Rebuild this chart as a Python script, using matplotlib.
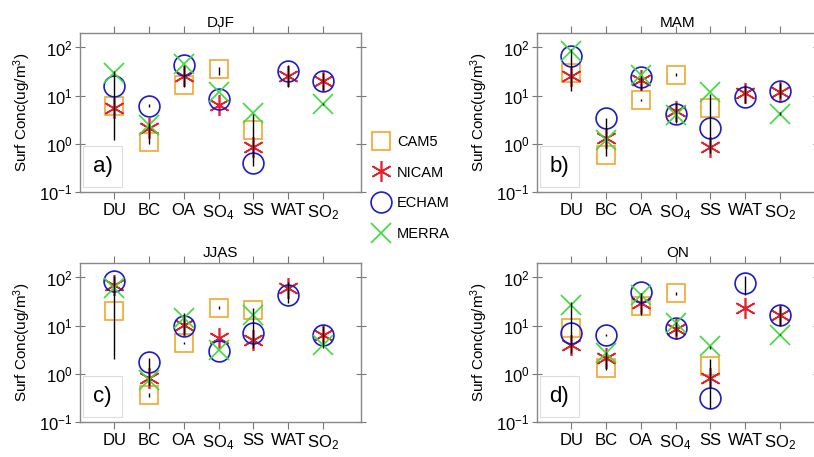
import numpy as np
import matplotlib
matplotlib.use('Agg')
import matplotlib.pyplot as plt
from matplotlib.lines import Line2D

plt.rcParams['font.family'] = ['Liberation Sans', 'DejaVu Sans']
plt.rcParams['mathtext.fontset'] = 'custom'
plt.rcParams['mathtext.rm'] = 'Liberation Sans'
plt.rcParams['mathtext.it'] = 'Liberation Sans'

nan = np.nan
species = ['DU', 'BC', 'OA', r'SO$_4$', 'SS', 'WAT', r'SO$_2$']
models = ['CAM5', 'NICAM', 'ECHAM', 'MERRA']
seasons = ['DJF', 'MAM', 'JJAS', 'ON']
panel_tags = ['a)', 'b)', 'c)', 'd)']

# surface concentrations (ug/m3), one list per season and model
djf_cam5 = [6.0, 1.1, 17, 35, 1.95, nan, nan]
djf_nicam = [5.6, 2.1, 26, 6.5, 0.88, 26, 20]
djf_echam = [16, 6.2, 44, 8.7, 0.4, 32, 20.5]
djf_merra = [30, 2.5, 45, 12, 4.4, nan, 6.8]

mam_cam5 = [29, 0.59, 8.3, 27, 5.5, nan, nan]
mam_nicam = [26, 1.33, 21.5, 4.7, 0.88, 11.4, 12]
mam_echam = [66, 3.4, 24.5, 4.2, 2.1, 9.4, 12.3]
mam_merra = [83, 1.2, 27, 4.0, 12, nan, 4.2]

jjas_cam5 = [20, 0.37, 4.4, 23, 21, nan, nan]
jjas_nicam = [70, 0.83, 10.5, 5.6, 5.1, 60, 6.5]
jjas_echam = [83, 1.8, 9.7, 2.95, 7, 44, 6.5]
jjas_merra = [60, 0.76, 14.4, 3.2, 17, nan, 4]

on_cam5 = [8.9, 1.33, 25, 47, 1.44, nan, nan]
on_nicam = [4.0, 2.1, 29.5, 8.7, 0.83, 23, 17]
on_echam = [7.1, 6.5, 51, 8.9, 0.32, 76, 17]
on_merra = [27, 2.7, 44, 11.3, 3.7, nan, 6.5]

# black variability bars: species index, low, high
djf_bar_i = [0, 1, 1, 2, 3, 4, 5, 6, 6]
djf_bar_lo = [1.2, 1.0, 5.8, 15, 27, 0.35, 15, 13, 6.4]
djf_bar_hi = [32, 2.7, 6.6, 44, 40, 4.2, 44, 30, 7.2]

mam_bar_i = [0, 1, 2, 2, 3, 3, 4, 5, 6, 6]
mam_bar_lo = [12.8, 0.55, 13, 7.9, 25, 2.7, 0.65, 7, 9, 4.0]
mam_bar_hi = [91, 3.5, 25, 8.7, 29, 7, 11, 17, 18, 4.5]

jjas_bar_i = [0, 1, 1, 2, 2, 3, 4, 5, 6]
jjas_bar_lo = [2, 0.6, 0.33, 6.5, 4.2, 22, 3.5, 30, 3.4]
jjas_bar_hi = [105, 2.1, 0.4, 18, 4.6, 25, 23, 80, 9.7]

on_bar_i = [0, 1, 1, 2, 3, 3, 4, 4, 5, 6, 6]
on_bar_lo = [2.7, 1.2, 6.0, 17, 6, 44, 0.2, 3.3, 44, 10, 6.3]
on_bar_hi = [31, 2.9, 6.8, 47, 12, 50, 2.0, 3.8, 110, 25, 6.8]

season_data = [
    (djf_cam5, djf_nicam, djf_echam, djf_merra),
    (mam_cam5, mam_nicam, mam_echam, mam_merra),
    (jjas_cam5, jjas_nicam, jjas_echam, jjas_merra),
    (on_cam5, on_nicam, on_echam, on_merra),
]
season_bars = [
    (djf_bar_i, djf_bar_lo, djf_bar_hi),
    (mam_bar_i, mam_bar_lo, mam_bar_hi),
    (jjas_bar_i, jjas_bar_lo, jjas_bar_hi),
    (on_bar_i, on_bar_lo, on_bar_hi),
]

styles = [
    dict(marker='s', color='#f2a72e', ms=13.5),
    dict(marker=(6, 2, 0), color='#e3222b', ms=15),
    dict(marker='o', color='#1c1cc8', ms=15),
    dict(marker='x', color='#3cdc3c', ms=14),
]

W, H = 814, 457
fig = plt.figure(figsize=(W / 100, H / 100), dpi=100)
ax_px = [(80, 33), (537, 33), (80, 263), (537, 263)]
ax_w, ax_h = 281, 159

x = np.arange(len(species))
for k, (season, tag) in enumerate(zip(seasons, panel_tags)):
    l, t = ax_px[k]
    ax = fig.add_axes([l / W, 1 - (t + ax_h) / H, ax_w / W, ax_h / H])
    for vals, st in zip(season_data[k], styles):
        ax.plot(x, vals, linestyle='none', marker=st['marker'], ms=st['ms'],
                mfc='none', mec=st['color'], mew=1.2, zorder=3)
    bi, blo, bhi = season_bars[k]
    ax.vlines(bi, blo, bhi, color='black', lw=1.0, zorder=5)

    ax.set_yscale('log')
    ax.set_ylim(0.1, 200)
    ax.set_xlim(-0.985, 7.1)
    ax.set_xticks(x)
    ax.set_xticklabels(species, fontsize=12)
    ax.set_yticks([0.1, 1, 10, 100])
    ax.yaxis.set_minor_locator(matplotlib.ticker.NullLocator())
    ax.tick_params(axis='x', direction='out', length=5, top=True, color='#777777', pad=3)
    ax.tick_params(axis='y', direction='inout', length=7, right=True, color='#777777',
                   labelsize=12, pad=2)
    for sp in ax.spines.values():
        sp.set_color('#888888')
        sp.set_linewidth(1.0)
    ax.set_ylabel('Surf Conc(ug/m$^3$)', fontsize=11, labelpad=4)
    ax.set_title(season, fontsize=11, pad=4)
    ax.text(0.08, 0.16, tag, transform=ax.transAxes, fontsize=16,
            ha='center', va='center',
            bbox=dict(boxstyle='square,pad=0.45', fc='white', ec='#dddddd', lw=0.8))

handles = [Line2D([], [], linestyle='none', marker=st['marker'], ms=st['ms'],
                  mfc='none', mec=st['color'], mew=1.2) for st in styles]
fig.legend(handles, models, loc='upper left', bbox_to_anchor=(368 / W, 1 - 129 / H),
           frameon=False, fontsize=10.5, handlelength=1.0, handletextpad=0.6,
           labelspacing=1.15, borderaxespad=0)

fig.savefig('out.png', dpi=100)
